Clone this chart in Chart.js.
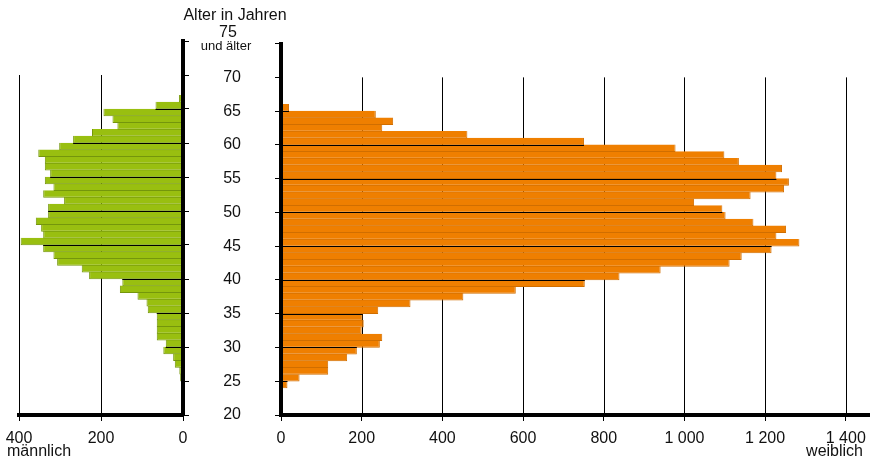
<!DOCTYPE html>
<html>
<head>
<meta charset="utf-8">
<script src="https://cdn.jsdelivr.net/npm/chart.js@4.4.1/dist/chart.umd.min.js"></script>
<style>
  body { margin: 0; background: #fff; }
  #wrap { position: relative; width: 870px; height: 462px; font-family: "Liberation Sans", Arial, sans-serif; color: #111; }
  .box { position: absolute; top: 0; height: 462px; }
  .txt { position: absolute; white-space: nowrap; font-size: 16px; line-height: 18px; }
</style>
</head>
<body>
<div id="wrap">
  <div class="box" style="left:0;width:200px"><canvas id="men"></canvas></div>
  <div class="box" style="left:181px;width:689px"><canvas id="women"></canvas></div>
  <div class="txt" style="left:180px;width:110px;top:6px;text-align:center">Alter in Jahren</div>
  <div class="txt" style="left:208px;width:40px;top:23px;text-align:center">75</div>
  <div class="txt" style="left:196px;width:60px;top:38px;font-size:13px;line-height:15px;text-align:center">und älter</div>
  <div class="txt" style="left:7px;top:442px">männlich</div>
  <div class="txt" style="right:7px;top:442px">weiblich</div>
</div>
<script>
const ages = [20, 21, 22, 23, 24, 25, 26, 27, 28, 29,
              30, 31, 32, 33, 34, 35, 36, 37, 38, 39,
              40, 41, 42, 43, 44, 45, 46, 47, 48, 49,
              50, 51, 52, 53, 54, 55, 56, 57, 58, 59,
              60, 61, 62, 63, 64, 65, 66, 67, 68, 69,
              70, 71, 72, 73, 74];
const male = [0, 1, 2, 3, 5, 7, 9, 20, 24, 48,
              42, 64, 64, 64, 64, 86, 89, 111, 154, 148,
              229, 247, 307, 316, 341, 396, 341, 346, 359, 329,
              329, 290, 341, 316, 337, 324, 337, 337, 353, 302,
              268, 222, 160, 172, 194, 67, 10, 4, 0, 0,
              0, 0, 0, 0, 0];
const female = [0, 0, 2, 3, 16, 46, 117, 117, 164, 188,
                245, 251, 200, 205, 202, 241, 321, 452, 582, 753,
                839, 941, 1112, 1142, 1216, 1285, 1228, 1252, 1171, 1102,
                1094, 1024, 1164, 1247, 1259, 1228, 1242, 1135, 1099, 978,
                751, 462, 251, 278, 235, 20, 3, 2, 0, 0,
                0, 0, 0, 0, 0];
const ageTicks = [20, 25, 30, 35, 40, 45, 50, 55, 60, 65, 70, 75];
const maleTicks = [0, 200, 400];
const femaleTicks = [0, 200, 400, 600, 800, 1000, 1200, 1400];

const FONT = { family: '"Liberation Sans", Arial, sans-serif', size: 16 };

function points(values) {
  return ages.map((a, i) => ({ x: values[i], y: a + 0.5 }));
}

function fmt(v) {
  return v >= 1000 ? Math.floor(v / 1000) + ' ' + String(v % 1000).padStart(3, '0') : String(v);
}

// grid lines: vertical ones behind the bars (up to age 70),
// horizontal ones every 5 years only where the bars are
const gridPlugin = {
  id: 'ageGrid',
  beforeDatasetsDraw(chart) {
    const { ctx, scales: { x, y } } = chart;
    const top = y.getPixelForValue(70), bottom = y.getPixelForValue(20);
    ctx.save();
    ctx.strokeStyle = '#000';
    ctx.lineWidth = 1;
    x.ticks.forEach(t => {
      if (t.value === 0) return;
      const px = Math.round(x.getPixelForValue(t.value)) + 0.5;
      ctx.beginPath();
      ctx.moveTo(px, top);
      ctx.lineTo(px, bottom);
      ctx.stroke();
    });
    ctx.restore();
  },
  afterDatasetsDraw(chart) {
    const { ctx, scales: { x, y } } = chart;
    const data = chart.data.datasets[0].data;
    ctx.save();
    ctx.strokeStyle = '#000';
    ctx.lineWidth = 1;
    ageTicks.forEach(t => {
      if (t === 20 || t === 75) return;
      const below = data.find(p => p.y === t - 0.5);
      const above = data.find(p => p.y === t + 0.5);
      const len = Math.min(below ? below.x : 0, above ? above.x : 0);
      if (!len) return;
      const py = Math.round(y.getPixelForValue(t)) + 0.5;
      ctx.beginPath();
      ctx.moveTo(x.getPixelForValue(0), py);
      ctx.lineTo(x.getPixelForValue(len), py);
      ctx.stroke();
    });
    ctx.restore();
  }
};

const barStyle = {
  borderWidth: { top: 0, right: 1, bottom: 1, left: 1 },
  borderSkipped: 'start',
  barPercentage: 1.1,
  categoryPercentage: 1
};

const ageAxis = {
  type: 'linear', min: 20, max: 75, offset: false,
  afterBuildTicks: s => { s.ticks = ageTicks.map(v => ({ value: v })); },
  grid: { offset: false, drawOnChartArea: false, color: '#000', tickLength: 6 },
  border: { color: '#000', width: 4, z: 1 }
};

// value axes: fixed height, no extra room for the end labels
function fitValueAxis(s) {
  s.height = 47;
  s.paddingLeft = 0;
  s.paddingRight = 0;
}

const menChart = new Chart(document.getElementById('men'), {
  type: 'bar',
  data: {
    datasets: [Object.assign({
      data: points(male),
      backgroundColor: '#99bf10',
      borderColor: '#74960c'
    }, barStyle)]
  },
  options: {
    indexAxis: 'y',
    responsive: true,
    maintainAspectRatio: false,
    animation: false,
    layout: { padding: { top: 41, left: 19, right: 0, bottom: 0 } },
    plugins: { legend: { display: false }, tooltip: { enabled: false } },
    scales: {
      x: {
        type: 'linear', reverse: true, min: 0, max: 400,
        afterBuildTicks: s => { s.ticks = maleTicks.map(v => ({ value: v })); },
        afterFit: fitValueAxis,
        grid: { drawOnChartArea: false, color: '#000', tickLength: 6 },
        border: { color: '#000', width: 4, z: 1 },
        ticks: { font: FONT, color: '#111', padding: 8, maxRotation: 0, autoSkip: false, callback: fmt }
      },
      y: Object.assign({}, ageAxis, {
        position: 'right',
        afterFit: s => { s.width = 17; },
        ticks: { display: false }
      })
    }
  },
  plugins: [gridPlugin]
});

const womenChart = new Chart(document.getElementById('women'), {
  type: 'bar',
  data: {
    datasets: [Object.assign({
      data: points(female),
      backgroundColor: '#ef7f00',
      borderColor: '#d06e00'
    }, barStyle)]
  },
  options: {
    indexAxis: 'y',
    responsive: true,
    maintainAspectRatio: false,
    animation: false,
    layout: { padding: { top: 41, left: 0, right: 0, bottom: 0 } },
    plugins: { legend: { display: false }, tooltip: { enabled: false } },
    scales: {
      x: {
        type: 'linear', min: 0, max: 1460,
        afterBuildTicks: s => { s.ticks = femaleTicks.map(v => ({ value: v })); },
        afterFit: fitValueAxis,
        grid: { drawOnChartArea: false, color: '#000', tickLength: 6 },
        border: { color: '#000', width: 4, z: 1 },
        ticks: { font: FONT, color: '#111', padding: 8, maxRotation: 0, autoSkip: false, callback: fmt }
      },
      y: Object.assign({}, ageAxis, {
        position: 'left',
        afterFit: s => { s.width = 100; },
        ticks: {
          font: FONT, color: '#111', padding: 34, autoSkip: false,
          // the top class "75 und älter" is labelled above the axis
          callback: v => v === 75 ? '' : String(v)
        }
      })
    }
  },
  plugins: [gridPlugin]
});
</script>
</body>
</html>
